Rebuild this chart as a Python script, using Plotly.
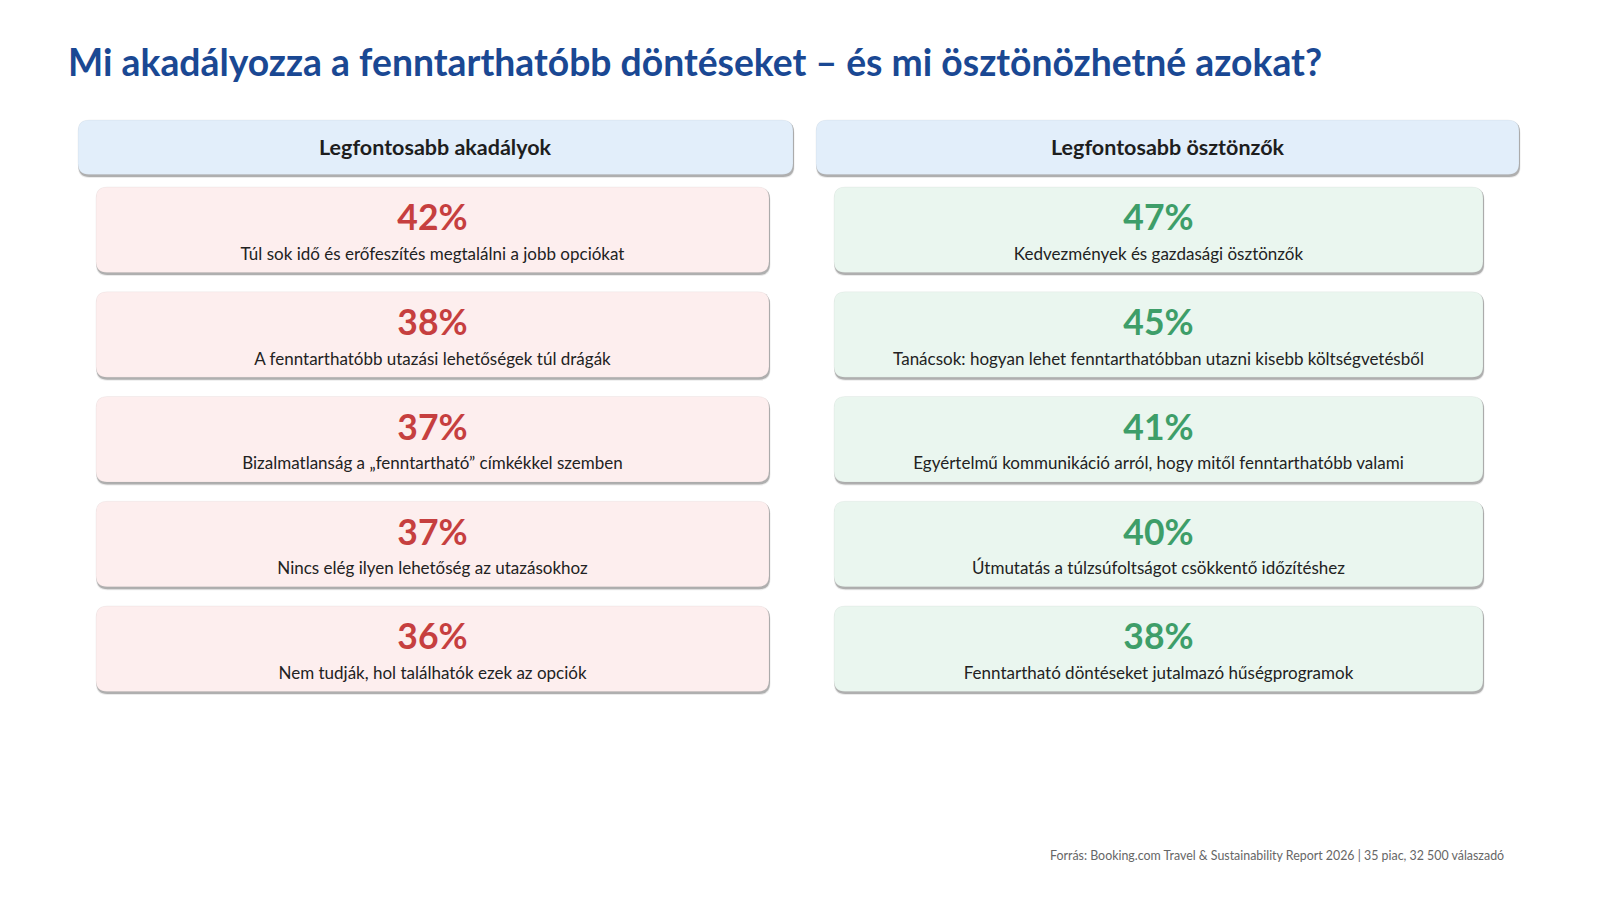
import plotly.graph_objects as go

# adatok
akadalyok = [
    "Túl sok idő és erőfeszítés megtalálni a jobb opciókat",
    "A fenntarthatóbb utazási lehetőségek túl drágák",
    "Bizalmatlanság a „fenntartható” címkékkel szemben",
    "Nincs elég ilyen lehetőség az utazásokhoz",
    "Nem tudják, hol találhatók ezek az opciók",
]
akadaly_pct = [42, 38, 37, 37, 36]

osztonzok = [
    "Kedvezmények és gazdasági ösztönzők",
    "Tanácsok: hogyan lehet fenntarthatóbban utazni kisebb költségvetésből",
    "Egyértelmű kommunikáció arról, hogy mitől fenntarthatóbb valami",
    "Útmutatás a túlzsúfoltságot csökkentő időzítéshez",
    "Fenntartható döntéseket jutalmazó hűségprogramok",
]
osztonzo_pct = [47, 45, 41, 40, 38]

headers = ["Legfontosabb akadályok", "Legfontosabb ösztönzők"]
title = "Mi akadályozza a fenntarthatóbb döntéseket – és mi ösztönözhetné azokat?"
footer = "Forrás: Booking.com Travel & Sustainability Report 2026 | 35 piac, 32 500 válaszadó"

FONT = "Lato"
W, H = 1600, 900
PAGE_PAD = 8  # a böngésző alapértelmezett body margója

# elrendezés (pixelben, a tengelyek 0..1600 / 0..900)
head_box = [(78, 793), (816, 1519)]
head_top, head_bot = 120, 174.5
card_box = [(96, 769), (834, 1483)]
card_top0, card_h, card_step = 187, 85.5, 104.75

fills = ["#FDEEEE", "#EAF6EF"]
accents = ["#C63F3F", "#3E9E69"]


def rounded(x0, y0, x1, y1, r):
    return (f"M{x0+r},{y0} L{x1-r},{y0} Q{x1},{y0} {x1},{y0+r} "
            f"L{x1},{y1-r} Q{x1},{y1} {x1-r},{y1} L{x0+r},{y1} "
            f"Q{x0},{y1} {x0},{y1-r} L{x0},{y0+r} Q{x0},{y0} {x0+r},{y0} Z")


def box(x0, y0, x1, y1, fill, r=11):
    out = []
    # lágy árnyék
    out.append(dict(type="path", path=rounded(x0, y0 + 2, x1 + 1.5, y1 + 3.5, r),
                    fillcolor="rgba(0,0,0,0.08)", line_width=0, layer="below"))
    out.append(dict(type="path", path=rounded(x0 + 0.5, y0 + 1, x1 + 1, y1 + 2.5, r),
                    fillcolor="rgba(60,60,60,0.34)", line_width=0, layer="below"))
    out.append(dict(type="path", path=rounded(x0, y0, x1, y1, r),
                    fillcolor=fill, line=dict(color="rgba(0,0,0,0.04)", width=1),
                    layer="below"))
    return out


fig = go.Figure()
shapes = []

for c in range(2):
    hx0, hx1 = head_box[c]
    shapes += box(hx0, head_top, hx1, head_bot, "#E2EEFA")
    cx0, cx1 = card_box[c]
    for i in range(5):
        y0 = card_top0 + i * card_step
        shapes += box(cx0, y0, cx1, y0 + card_h, fills[c])

for c, (labels, pct) in enumerate([(akadalyok, akadaly_pct), (osztonzok, osztonzo_pct)]):
    cx0, cx1 = card_box[c]
    xc = (cx0 + cx1) / 2
    ys = [card_top0 + i * card_step for i in range(len(pct))]
    fig.add_trace(go.Scatter(
        x=[xc] * len(pct), y=[y + 34.5 for y in ys], mode="text",
        text=[f"{v}%" for v in pct], textposition="middle center",
        textfont=dict(family=FONT, size=35.5, color=accents[c], weight="bold"),
        hoverinfo="skip", showlegend=False))
    fig.add_trace(go.Scatter(
        x=[xc] * len(labels), y=[y + 68.5 for y in ys], mode="text",
        text=labels, textposition="middle center",
        textfont=dict(family=FONT, size=17, color="#222222"),
        hoverinfo="skip", showlegend=False))

annotations = [
    dict(x=66, y=61, xref="x", yref="y", text=f"<b>{title}</b>", showarrow=False,
         xanchor="left", yanchor="middle",
         font=dict(family=FONT, size=37.3, color="#1A4893")),
    dict(x=1506, y=855, xref="x", yref="y", text=footer, showarrow=False,
         xanchor="right", yanchor="middle",
         font=dict(family=FONT, size=12.4, color="#666666")),
]
for c in range(2):
    hx0, hx1 = head_box[c]
    annotations.append(dict(x=(hx0 + hx1) / 2, y=(head_top + head_bot) / 2, xref="x", yref="y",
                            text=f"<b>{headers[c]}</b>", showarrow=False,
                            font=dict(family=FONT, size=21.5, color="#1E1E1E")))

fig.update_layout(
    width=W, height=H,
    margin=dict(l=0, r=0, t=0, b=0),
    paper_bgcolor="white", plot_bgcolor="white",
    xaxis=dict(range=[PAGE_PAD, W + PAGE_PAD], visible=False, fixedrange=True),
    yaxis=dict(range=[H + PAGE_PAD, PAGE_PAD], visible=False, fixedrange=True),
    shapes=shapes, annotations=annotations,
)

fig.write_html("out.html")
